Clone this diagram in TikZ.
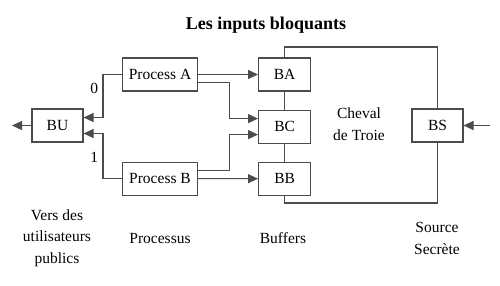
\documentclass[tikz,border=0pt]{standalone}
\usepackage{fontspec}
\setmainfont{Liberation Serif}
\usetikzlibrary{positioning,arrows.meta}

\begin{document}
\begin{tikzpicture}[x=1pt, y=-1pt,
    trait/.style={line width=1.1pt, draw=black!70},
    boite/.style={trait, draw, minimum height=33pt, inner sep=0pt, font=\fontsize{15.5}{18}\selectfont},
    fleche/.style={trait, -{Triangle[length=10pt, width=9pt]}},
    legende/.style={align=center, font=\fontsize{15.5}{21.5}\selectfont}]

    \useasboundingbox (0,0) rectangle (500,285);

    \node[font=\bfseries\fontsize{18}{20}\selectfont] (titre) at (266,25) {Les inputs bloquants};

    % processus et buffers
    \node[boite, minimum width=75pt] (pA) at (160,74.5) {Process A};
    \node[boite, minimum width=75pt, below=70pt of pA] (pB) {Process B};
    \node[boite, minimum width=51pt] (bu) at (57.5,125.5) {BU};
    \node[boite, minimum width=52pt, right=60pt of pA] (ba) {BA};
    \node[boite, minimum width=52pt, below=18pt of ba] (bc) {BC};
    \node[boite, minimum width=52pt, below=18pt of bc] (bb) {BB};
    \node[boite, minimum width=51pt] (bs) at (437.5,125.5) {BS};

    \coordinate (sortie) at (12,125.5);
    \coordinate (entree) at (490,125.5);

    % vers les buffers
    \draw[fleche] (pA) -- (ba);
    \draw[fleche] (pB) -- (bb);
    \draw[fleche] ([yshift=-8pt]pA.east) -- ++(31,0) |- ([yshift=8pt]bc.west);
    \draw[fleche] ([yshift=8pt]pB.east) -- ++(31,0) |- ([yshift=-8pt]bc.west);

    % vers BU
    \draw[fleche] (pA.west) -- ++(-19,0) |- ([yshift=8pt]bu.east)
        node[pos=0.16, left=1pt, font=\fontsize{15.5}{18}\selectfont] {0};
    \draw[fleche] (pB.west) -- ++(-19,0) |- ([yshift=-8pt]bu.east)
        node[pos=0.23, left=1pt, font=\fontsize{15.5}{18}\selectfont] {1};
    \draw[fleche] (bu) -- (sortie);
    \draw[fleche] (entree) -- (bs);

    % cheval de Troie
    \draw[trait] (ba.north) -- (ba.north |- 0,47) -| (bs.north);
    \draw[trait] (bs.south) -- (bs.south |- 0,203) -| (bb.south);
    \draw[trait] (ba.south) -- (bc.north);
    \draw[trait] (bc.south) -- (bb.north);
    \node[legende] (cheval) at (359,124) {Cheval\\de Troie};

    % legendes
    \node[legende] (lbu) at (57,238) {Vers des\\utilisateurs\\publics};
    \node[legende] (lproc) at (160,238) {Processus};
    \node[legende] (lbuf) at (283,238) {Buffers};
    \node[legende] (lsrc) at (437,238.5) {Source\\Secrète};
\end{tikzpicture}
\end{document}
